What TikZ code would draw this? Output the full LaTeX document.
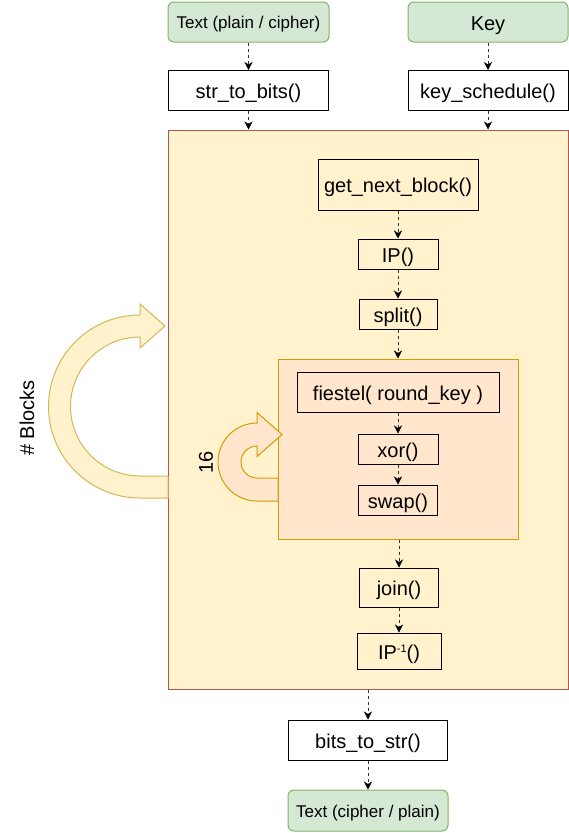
\documentclass[tikz,border=0pt]{standalone}
\usepackage{fontspec}
\setmainfont{Liberation Sans}
\usetikzlibrary{arrows.meta}
\definecolor{gfill}{HTML}{D5E8D4}
\definecolor{gline}{HTML}{82B366}
\definecolor{yfill}{HTML}{FFF2CC}
\definecolor{yline}{HTML}{D6B656}
\definecolor{rline}{HTML}{B85450}
\definecolor{ofill}{HTML}{FFE6CC}
\definecolor{oline}{HTML}{D79B00}
\definecolor{eline}{HTML}{333333}
\tikzset{
  fbox/.style={draw=black,line width=1pt,inner sep=0pt,font=\fontsize{20}{24}\selectfont,text height=19pt,text depth=2.6pt},
  gbox/.style={draw=gline,fill=gfill,line width=1pt,rounded corners=6pt,inner sep=0pt},
  big20/.style={font=\fontsize{20}{24}\selectfont,text height=19pt,text depth=2.6pt},
  small16/.style={font=\fontsize{17}{20}\selectfont,text height=16pt,text depth=2.2pt},
  conn/.style={draw=eline,line width=1pt,dash pattern=on 3pt off 3pt,
    -{Stealth[length=8pt,width=8pt,inset=2.5pt,color=black,fill=black,line width=0.5pt]}},
}
\begin{document}
\begin{tikzpicture}[x=1pt,y=1pt]
\useasboundingbox (0,0) rectangle (569,-833);
% containers
\node[draw=rline,fill=yfill,line width=1pt,minimum width=400pt,minimum height=559pt,inner sep=0pt] (big) at (368,-409.5) {};
\node[draw=oline,fill=ofill,line width=1pt,minimum width=240pt,minimum height=180pt,inner sep=0pt] (orange) at (398,-449) {};
% loop arrows
\draw[draw=yline,fill=yfill,line width=1pt]
  (168,-498) -- (140,-498) arc[start angle=270,end angle=90,radius=91.5pt]
  -- (140,-304) -- (165,-326) -- (140,-348) -- (140,-337)
  arc[start angle=90,end angle=270,radius=69.5pt] -- (168,-476) -- cycle;
\draw[draw=oline,fill=ofill,line width=1pt]
  (278,-501) -- (257,-501) arc[start angle=270,end angle=90,radius=39pt]
  -- (257,-412.5) -- (282,-434.5) -- (257,-456.5) -- (257,-446)
  arc[start angle=90,end angle=270,radius=16pt] -- (278,-478) -- cycle;
\node[rotate=90,font=\fontsize{20}{24}\selectfont,inner sep=0pt] (blk) at (27,-418) {\# Blocks};
\node[rotate=90,font=\fontsize{20}{24}\selectfont,inner sep=0pt] (sixteen) at (206,-462) {16};
% inputs
\node[gbox,small16,minimum width=161pt,minimum height=40pt] (t1) at (248.5,-22) {Text (plain / cipher)};
\node[gbox,big20,minimum width=160pt,minimum height=40pt] (key) at (488,-22) {Key};
\node[fbox,fill=white,minimum width=160pt,minimum height=40pt] (s2b) at (248.5,-90.5) {str\_to\_bits()};
\node[fbox,fill=white,minimum width=160pt,minimum height=40pt] (ks) at (488,-90.5) {key\_schedule()};
% inner column
\node[fbox,minimum width=160pt,minimum height=51pt] (gnb) at (398,-184.5) {get\_next\_block()};
\node[fbox,minimum width=80pt,minimum height=30pt] (ip) at (398,-254) {IP()};
\node[fbox,minimum width=78pt,minimum height=30pt] (split) at (398,-314) {split()};
\node[fbox,minimum width=202pt,minimum height=40pt] (fst) at (398,-392) {fiestel( round\_key )};
\node[fbox,minimum width=80pt,minimum height=30pt] (xor) at (398,-449) {xor()};
\node[fbox,minimum width=79pt,minimum height=30pt] (swap) at (398,-500) {swap()};
\node[fbox,minimum width=79pt,minimum height=39pt] (join) at (399,-587.5) {join()};
\node[fbox,minimum width=84pt,minimum height=36pt] (ipinv) at (399,-651) {IP\raisebox{7pt}{\fontsize{11}{13}\selectfont -1}()};
% outputs
\node[fbox,fill=white,minimum width=159pt,minimum height=40pt] (b2s) at (368,-740) {bits\_to\_str()};
\node[gbox,small16,minimum width=160pt,minimum height=41pt] (t2) at (368,-810.5) {Text (cipher / plain)};
% connectors
\draw[conn] (t1) -- (s2b);
\draw[conn] (key) -- (ks);
\draw[conn] (s2b.south) -- (s2b.south |- big.north);
\draw[conn] (ks.south) -- (ks.south |- big.north);
\draw[conn] (gnb) -- (ip);
\draw[conn] (ip) -- (split);
\draw[conn] (split.south) -- (split.south |- orange.north);
\draw[conn] (fst) -- (xor);
\draw[conn] (xor) -- (swap);
\draw[conn] (join.north |- orange.south) -- (join.north);
\draw[conn] (join) -- (ipinv);
\draw[conn] (b2s.north |- big.south) -- (b2s.north);
\draw[conn] (b2s) -- (t2);
\end{tikzpicture}
\end{document}
